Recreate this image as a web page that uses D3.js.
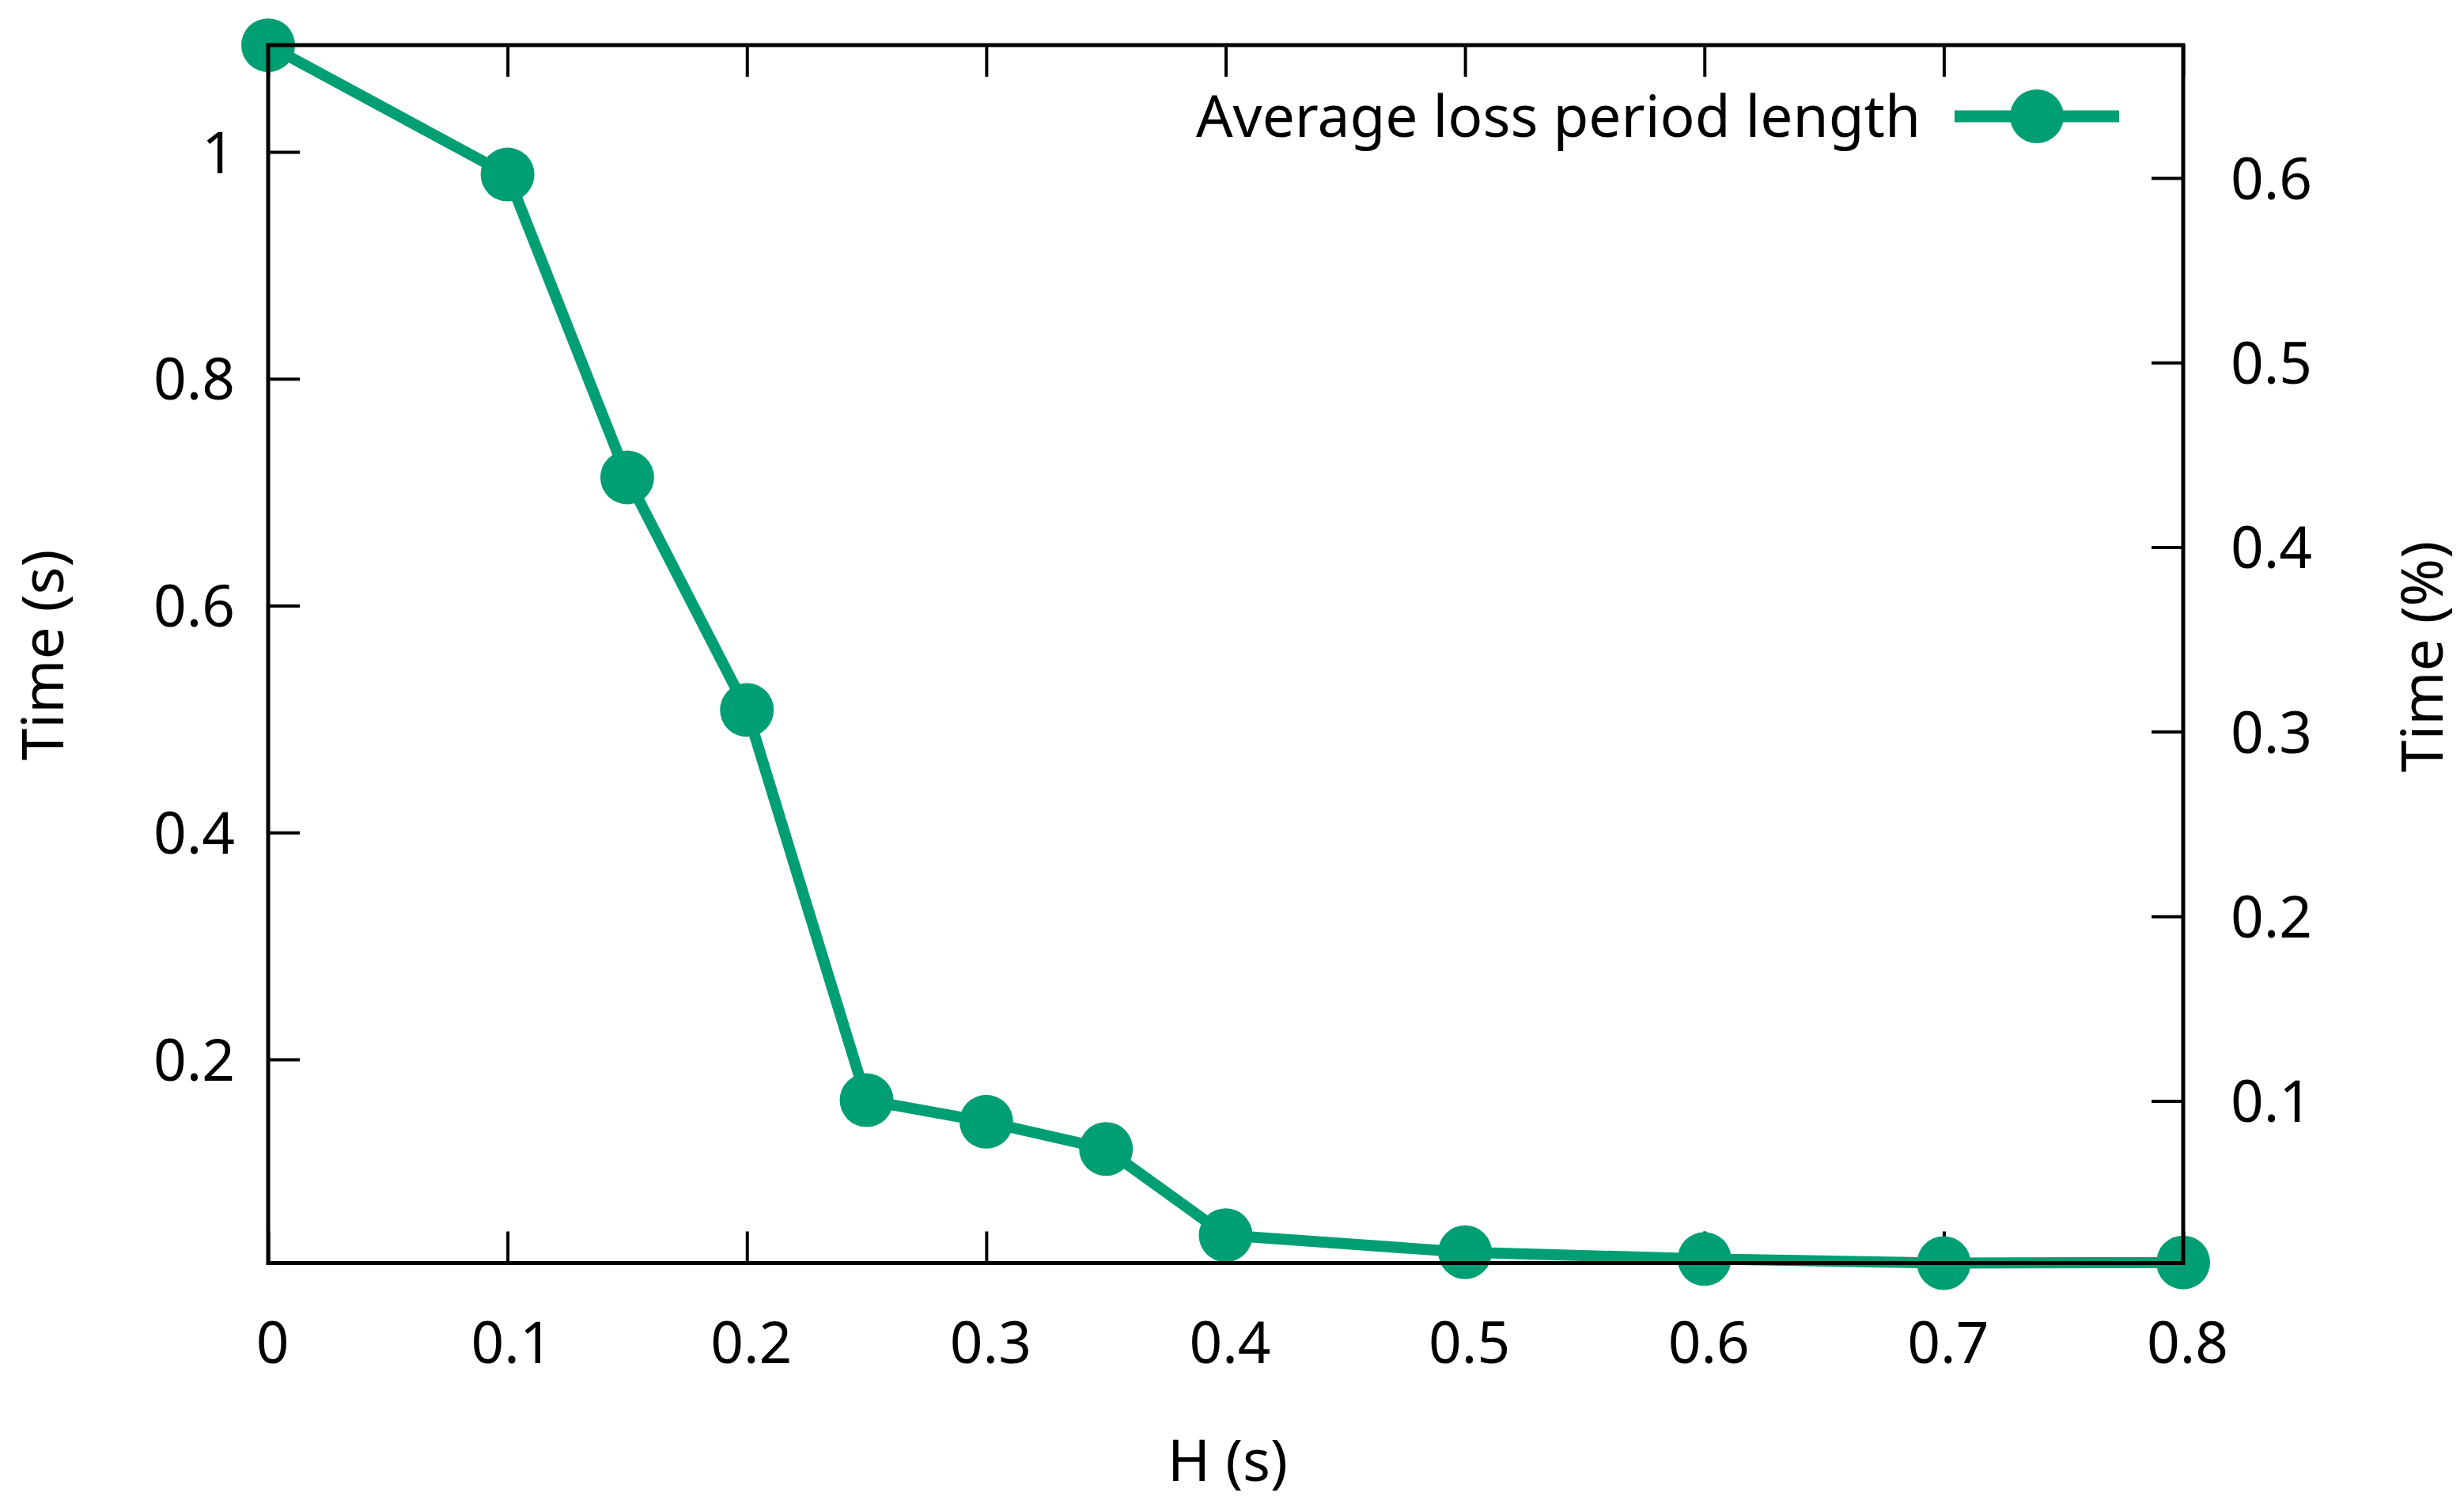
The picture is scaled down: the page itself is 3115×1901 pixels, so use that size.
<!DOCTYPE html>
<html>
<head>
<meta charset="utf-8">
<script src="https://cdn.jsdelivr.net/npm/d3@7/dist/d3.min.js"></script>
<style>
  html, body { margin: 0; padding: 0; background: #fff; }
  svg { display: block; }
  text { font-family: "Noto Sans", sans-serif; fill: #000; }
</style>
</head>
<body>
<svg id="chart" width="3115" height="1901"></svg>
<script>
// ---- data ----
const hValues = [0, 0.1, 0.15, 0.2, 0.25, 0.3, 0.35, 0.4, 0.5, 0.6, 0.7, 0.8];
const lossLength = [1.094, 0.980, 0.713, 0.508, 0.164, 0.145, 0.121, 0.045, 0.030, 0.024, 0.0204, 0.021];
const xTicks = [0, 0.1, 0.2, 0.3, 0.4, 0.5, 0.6, 0.7, 0.8];
const yTicks = [0.2, 0.4, 0.6, 0.8, 1];
const y2Ticks = [0.1, 0.2, 0.3, 0.4, 0.5, 0.6];
const seriesName = "Average loss period length";
const xTitle = "H (s)";
const yTitle = "Time (s)";
const y2Title = "Time (%)";

// ---- layout ----
const L = 339, R = 2760, T = 57, B = 1596.5;
const color = "#009e73";
const fs = 73;

const svg = d3.select("#chart");
const x = d3.scaleLinear().domain([0, 0.8]).range([L, R]);
const y = d3.scaleLinear().domain([0.0204, 1.0941]).range([B, T]);
const y2 = d3.scaleLinear().domain([0.0121, 0.672]).range([B, T]);

const tickLen = 40;

// x ticks bottom and top (mirrored)
const xAxisB = d3.axisBottom(x).tickValues(xTicks).tickSizeInner(-tickLen).tickSizeOuter(0).tickFormat(d => d3.format("")(d));
const gx = svg.append("g").attr("transform", `translate(0,${B})`).call(xAxisB);
gx.select(".domain").remove();
gx.selectAll("line").attr("stroke-width", 4);
gx.selectAll("text").attr("font-size", fs).attr("y", 0).attr("dy", 0)
  .attr("transform", "translate(5,126)").style("font-family", '"Noto Sans", sans-serif');

const xAxisT = d3.axisTop(x).tickValues(xTicks).tickSizeInner(-tickLen).tickSizeOuter(0).tickFormat("");
const gxt = svg.append("g").attr("transform", `translate(0,${T})`).call(xAxisT);
gxt.select(".domain").remove();
gxt.selectAll("line").attr("stroke-width", 4);

// left y ticks
const yAxis = d3.axisLeft(y).tickValues(yTicks).tickSizeInner(-tickLen).tickSizeOuter(0).tickFormat(d => d3.format("")(d));
const gy = svg.append("g").attr("transform", `translate(${L},0)`).call(yAxis);
gy.select(".domain").remove();
gy.selectAll("line").attr("stroke-width", 4);
gy.selectAll("text").attr("font-size", fs).attr("x", -42).attr("dy", "0.36em")
  .style("font-family", '"Noto Sans", sans-serif');

// right y2 ticks
const y2Axis = d3.axisRight(y2).tickValues(y2Ticks).tickSizeInner(-tickLen).tickSizeOuter(0).tickFormat(d => d3.format("")(d));
const gy2 = svg.append("g").attr("transform", `translate(${R},0)`).call(y2Axis);
gy2.select(".domain").remove();
gy2.selectAll("line").attr("stroke-width", 4);
gy2.selectAll("text").attr("font-size", fs).attr("x", 60).attr("dy", "0.36em")
  .style("font-family", '"Noto Sans", sans-serif');

// data line and markers
const pts = hValues.map((h, i) => ({ h, v: lossLength[i] }));
const line = d3.line().x(d => x(d.h)).y(d => y(d.v));
svg.append("path").datum(pts).attr("d", line)
  .attr("fill", "none").attr("stroke", color).attr("stroke-width", 14).attr("stroke-linejoin", "miter");
svg.append("g").selectAll("circle").data(pts).join("circle")
  .attr("cx", d => x(d.h)).attr("cy", d => y(d.v)).attr("r", 34).attr("fill", color);

// border (front)
svg.append("rect").attr("x", L).attr("y", T).attr("width", R - L).attr("height", B - T)
  .attr("fill", "none").attr("stroke", "#000").attr("stroke-width", 5);

// legend
const legY = 147;
svg.append("text").attr("x", 2428).attr("y", 173).attr("text-anchor", "end")
  .attr("font-size", fs).text(seriesName);
svg.append("line").attr("x1", 2471).attr("x2", 2679).attr("y1", legY).attr("y2", legY)
  .attr("stroke", color).attr("stroke-width", 15);
svg.append("circle").attr("cx", 2575).attr("cy", legY).attr("r", 34).attr("fill", color);

// axis titles
svg.append("text").attr("x", 1552).attr("y", 1872).attr("text-anchor", "middle")
  .attr("font-size", fs).text(xTitle);
svg.append("text").attr("transform", "translate(80,828) rotate(-90)").attr("text-anchor", "middle")
  .attr("font-size", fs).text(yTitle);
svg.append("text").attr("transform", "translate(3088,830) rotate(-90)").attr("text-anchor", "middle")
  .attr("font-size", fs).text(y2Title);
</script>
</body>
</html>
